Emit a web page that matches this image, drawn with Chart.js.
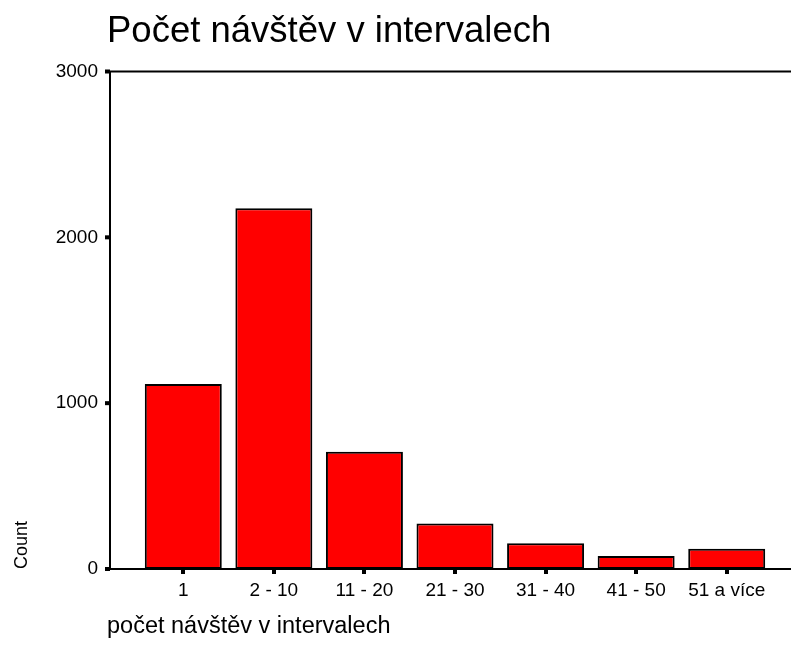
<!DOCTYPE html>
<html>
<head>
<meta charset="utf-8">
<script src="https://cdn.jsdelivr.net/npm/chart.js@4/dist/chart.umd.min.js"></script>
<style>
body { margin: 0; background: #fff; }
#wrap { width: 791px; height: 665px; }
</style>
</head>
<body>
<div id="wrap"><canvas id="myChart" width="791" height="665"></canvas></div>
<script>
// data
var categories = ['1', '2 - 10', '11 - 20', '21 - 30', '31 - 40', '41 - 50', '51 a více'];
var counts = [1115, 2175, 707, 275, 155, 78, 122];
var yTicks = [0, 1000, 2000, 3000];

var chartTitle = 'Počet návštěv v intervalech';
var xTitle = 'počet návštěv v intervalech';
var yTitle = 'Count';

var fontFamily = '"Liberation Sans", Arial, sans-serif';

// SPSS style frame: axis lines run past the plot area
var frame = {
	id: 'frame',
	afterDraw: function(chart) {
		var ctx = chart.ctx;
		var area = chart.chartArea;
		var y = chart.scales.y;
		var axisX = 110;
		ctx.save();
		ctx.strokeStyle = '#000';
		ctx.lineWidth = 2;
		ctx.beginPath();
		ctx.moveTo(axisX, area.top);
		ctx.lineTo(axisX, area.bottom);
		ctx.moveTo(axisX, area.top);
		ctx.lineTo(chart.width, area.top);
		ctx.moveTo(axisX, area.bottom);
		ctx.lineTo(chart.width, area.bottom);
		ctx.stroke();
		ctx.fillStyle = '#000';
		for (var i = 0; i < yTicks.length; i++) {
			var py = y.getPixelForValue(yTicks[i]);
			ctx.fillRect(axisX - 5, py - 2, 5, 4);
		}
		ctx.textAlign = 'left';
		ctx.textBaseline = 'alphabetic';
		ctx.font = '36.5px ' + fontFamily;
		ctx.fillText(chartTitle, 107, 42);
		ctx.font = '23.5px ' + fontFamily;
		ctx.textBaseline = 'middle';
		ctx.fillText(xTitle, 107, 627);
		ctx.restore();
	}
};

var ctx = document.getElementById('myChart').getContext('2d');
var myChart = new Chart(ctx, {
	type: 'bar',
	data: {
		labels: categories,
		datasets: [{
			label: yTitle,
			data: counts,
			backgroundColor: '#ff0000',
			borderColor: '#000000',
			borderWidth: 2,
			borderSkipped: false,
			categoryPercentage: 0.85,
			barPercentage: 1
		}]
	},
	options: {
		responsive: false,
		animation: false,
		layout: { padding: { left: 0, right: 19, top: 71.5, bottom: 0 } },
		plugins: {
			legend: { display: false },
			tooltip: { enabled: false },
			title: { display: false }
		},
		scales: {
			x: {
				grid: { display: true, drawOnChartArea: false, offset: false, tickLength: 5, tickWidth: 4, lineWidth: 4, color: '#000' },
				border: { display: false },
				ticks: { color: '#000', padding: 5, maxRotation: 0, font: { family: fontFamily, size: 19 } },
				afterFit: function(scale) { scale.height = 96; }
			},
			y: {
				min: 0,
				max: 3000,
				grid: { display: false, drawTicks: false },
				border: { display: false },
				ticks: {
					stepSize: 1000, color: '#000', padding: 40, font: { family: fontFamily, size: 19 },
					callback: function(value) { return String(value); }
				},
				title: { display: true, text: yTitle, align: 'start', color: '#000', padding: { top: 11, bottom: 0 }, font: { family: fontFamily, size: 18 } },
				afterFit: function(scale) { scale.width = 138; }
			}
		}
	},
	plugins: [frame]
});
</script>
</body>
</html>
